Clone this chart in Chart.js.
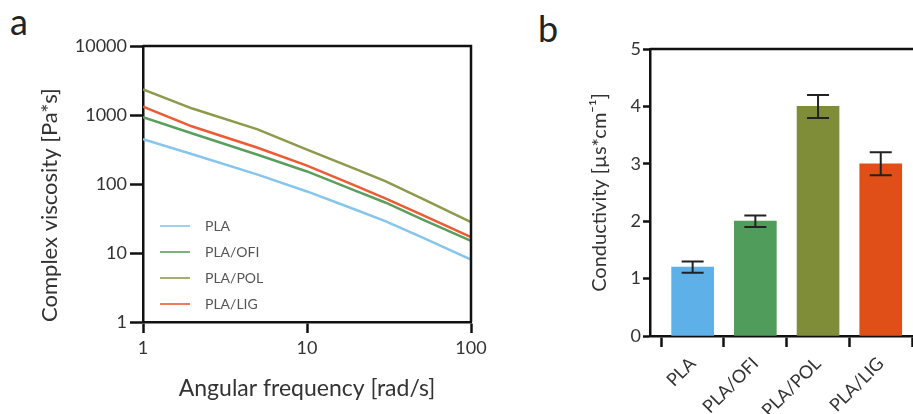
<!DOCTYPE html>
<html>
<head>
<meta charset="utf-8">
<script src="https://cdn.jsdelivr.net/npm/chart.js@4.4.1/dist/chart.umd.min.js"></script>
<style>
  body { margin: 0; background: #fff; width: 913px; height: 414px; overflow: hidden; position: relative; font-family: Lato, sans-serif; }
  .panel { position: absolute; font-size: 36px; line-height: 36px; color: #222; }
  #wrapA { position: absolute; left: 0; top: 0; width: 500px; height: 414px; }
  #wrapB { position: absolute; left: 500px; top: 0; width: 413px; height: 414px; overflow: hidden; }
</style>
</head>
<body>
<div class="panel" style="left:10px; top:3px;">a</div>
<div class="panel" style="left:538px; top:10px;">b</div>
<div id="wrapA"><canvas id="viscChart" width="500" height="414"></canvas></div>
<div id="wrapB"><canvas id="condChart" width="440" height="414"></canvas></div>
<script>
// a: complex viscosity vs angular frequency (log-log)
const freq = [1, 2, 5, 10, 20, 30, 50, 100];
const viscPLA = [445, 270, 137, 78, 42, 29, 17, 8];
const viscOFI = [930, 540, 265, 152, 79, 54, 31, 15];
const viscPOL = [2350, 1240, 620, 315, 163, 110, 62, 28];
const viscLIG = [1320, 680, 335, 185, 93, 62, 36, 17];
const freqTicks = [1, 10, 100];
const viscTicks = [1, 10, 100, 1000, 10000];

// b: conductivity bars
const categories = ["PLA", "PLA/OFI", "PLA/POL", "PLA/LIG"];
const conductivity = [1.2, 2.0, 4.0, 3.0];
const conductivityErr = [0.1, 0.1, 0.2, 0.2];

const AXIS = "#111";
const TXT = "#333";

function pts(ys) {
  return freq.map((f, i) => ({ x: f, y: ys[i] }));
}

// top + right edge of the box
const framePlugin = {
  id: "frame",
  afterDraw(chart) {
    const { ctx, chartArea: a } = chart;
    ctx.save();
    ctx.strokeStyle = AXIS;
    ctx.lineWidth = 2.5;
    ctx.beginPath();
    ctx.moveTo(a.left, a.top);
    ctx.lineTo(a.right, a.top);
    ctx.lineTo(a.right, a.bottom);
    ctx.stroke();
    ctx.restore();
  }
};

// legend drawn inside the plot area
const innerLegend = {
  id: "innerLegend",
  afterDraw(chart) {
    const ctx = chart.ctx;
    ctx.save();
    chart.data.datasets.forEach((ds, i) => {
      const y = 226 + i * 26;
      ctx.strokeStyle = ds.borderColor;
      ctx.globalAlpha = 0.8;
      ctx.lineWidth = 2;
      ctx.beginPath();
      ctx.moveTo(160, y);
      ctx.lineTo(190, y);
      ctx.stroke();
      ctx.globalAlpha = 1;
      ctx.fillStyle = "#555";
      ctx.font = "14px Lato";
      ctx.textBaseline = "middle";
      ctx.fillText(ds.label, 205, y);
    });
    ctx.restore();
  }
};

const errorBars = {
  id: "errorBars",
  afterDatasetsDraw(chart) {
    const ctx = chart.ctx;
    const ys = chart.scales.y;
    const meta = chart.getDatasetMeta(0);
    ctx.save();
    ctx.strokeStyle = "#222";
    ctx.lineWidth = 2;
    meta.data.forEach((bar, i) => {
      const hi = ys.getPixelForValue(conductivity[i] + conductivityErr[i]);
      const lo = ys.getPixelForValue(conductivity[i] - conductivityErr[i]);
      const x = bar.x, w = 11;
      ctx.beginPath();
      ctx.moveTo(x, hi); ctx.lineTo(x, lo);
      ctx.moveTo(x - w, hi); ctx.lineTo(x + w, hi);
      ctx.moveTo(x - w, lo); ctx.lineTo(x + w, lo);
      ctx.stroke();
    });
    ctx.restore();
  }
};

new Chart(document.getElementById("viscChart"), {
  type: "line",
  data: {
    datasets: [
      { label: "PLA", data: pts(viscPLA), borderColor: "#86c5ec" },
      { label: "PLA/OFI", data: pts(viscOFI), borderColor: "#5a9e5e" },
      { label: "PLA/POL", data: pts(viscPOL), borderColor: "#8d9a4c" },
      { label: "PLA/LIG", data: pts(viscLIG), borderColor: "#ec5b34" }
    ]
  },
  options: {
    responsive: false,
    animation: false,
    layout: { padding: { top: 46, right: 29, left: 0, bottom: 0 } },
    elements: { point: { radius: 0 }, line: { borderWidth: 2.5, tension: 0 } },
    plugins: { legend: { display: false }, tooltip: { enabled: false } },
    scales: {
      x: {
        type: "logarithmic", min: 1, max: 100,
        afterBuildTicks: s => { s.ticks = freqTicks.map(v => ({ value: v })); },
        afterFit: s => { s.height = 92; },
        grid: { drawOnChartArea: false, tickLength: 11, tickColor: AXIS, tickWidth: 2.5 },
        border: { color: AXIS, width: 2.5 },
        ticks: { color: TXT, font: { family: "Lato", size: 18 }, padding: 4, maxRotation: 0, autoSkip: false, callback: v => String(v) },
        title: { display: true, text: "Angular frequency [rad/s]", color: TXT, font: { family: "Lato", size: 23 }, padding: { bottom: 12 } }
      },
      y: {
        type: "logarithmic", min: 1, max: 10000,
        afterBuildTicks: s => { s.ticks = viscTicks.map(v => ({ value: v })); },
        afterFit: s => { s.width = 143; },
        grid: { drawOnChartArea: false, tickLength: 13, tickColor: AXIS, tickWidth: 2.5 },
        border: { color: AXIS, width: 2.5 },
        ticks: { color: TXT, font: { family: "Lato", size: 18 }, padding: 3, autoSkip: false, callback: v => String(v) },
        title: { display: true, text: "Complex viscosity [Pa*s]", align: "start", color: TXT, font: { family: "Lato", size: 22 }, padding: { top: 37 } }
      }
    }
  },
  plugins: [framePlugin, innerLegend]
});

new Chart(document.getElementById("condChart"), {
  type: "bar",
  data: {
    datasets: [{
      data: conductivity.map((v, i) => ({ x: i, y: v })),
      backgroundColor: ["#5db0e8", "#509c5a", "#7f8c38", "#df4f17"],
      borderWidth: 0,
      barThickness: 42
    }]
  },
  options: {
    responsive: false,
    animation: false,
    layout: { padding: { top: 49, right: 0, left: 0, bottom: 0 } },
    plugins: { legend: { display: false }, tooltip: { enabled: false } },
    scales: {
      x: {
        type: "linear", min: -0.68, max: 3.945, offset: false,
        afterBuildTicks: s => { s.ticks = categories.map((c, i) => ({ value: i })); },
        afterFit: s => { s.height = 78; },
        grid: { drawOnChartArea: false, tickLength: 11, tickColor: AXIS, tickWidth: 2.5 },
        border: { color: AXIS, width: 2.5 },
        ticks: { color: TXT, font: { family: "Lato", size: 18 }, padding: 6, minRotation: 45, maxRotation: 45, autoSkip: false, callback: v => categories[v] }
      },
      y: {
        min: 0, max: 5,
        afterFit: s => { s.width = 150; },
        grid: { drawOnChartArea: false, tickLength: 7, tickColor: AXIS, tickWidth: 2.5 },
        border: { color: AXIS, width: 2.5 },
        ticks: { stepSize: 1, color: TXT, font: { family: "Lato", size: 18 }, padding: 2 },
        title: { display: true, text: "Conductivity [µs*cm⁻¹]", color: TXT, font: { family: "Lato", size: 20 }, padding: { top: 88 } }
      }
    }
  },
  plugins: [framePlugin, errorBars]
});
</script>
</body>
</html>
